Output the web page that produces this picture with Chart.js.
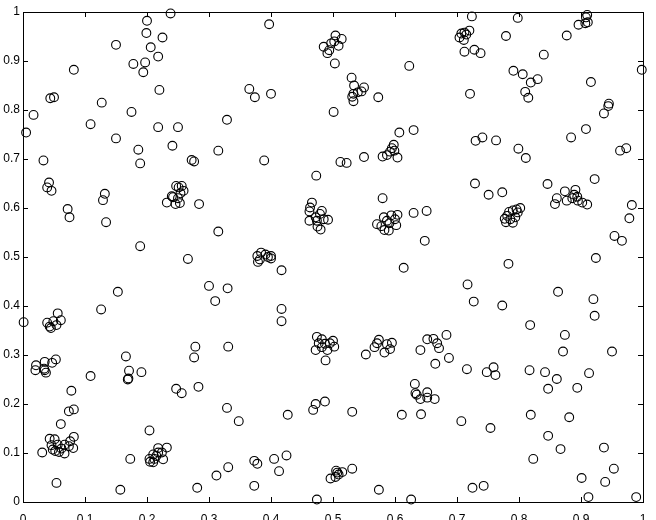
<!DOCTYPE html>
<html>
<head>
    <title>Scatter</title>
    <script src="https://cdn.jsdelivr.net/npm/chart.js"></script>
    <style>
        body { margin: 0; background: #fff; }
        canvas { display: block; }
    </style>
</head>
<body>
    <canvas id="scatterChart" width="656" height="520"></canvas>

    <script>
        // tick labels (both axes)
        const tickValues = [0, 0.1, 0.2, 0.3, 0.4, 0.5, 0.6, 0.7, 0.8, 0.9, 1];

        // points, x and y in matching order
        const xs = [
            0.238, 0.200, 0.199, 0.225, 0.150, 0.206, 0.218, 0.197, 0.178, 0.194, 0.082, 0.220, 0.044, 0.050, 0.127, 0.017, 0.175, 0.109, 0.218, 0.250, 0.329, 0.005, 0.150,
            0.397, 0.504, 0.514, 0.497, 0.502, 0.485, 0.509, 0.491, 0.494, 0.503, 0.623, 0.530, 0.534, 0.550, 0.546, 0.533, 0.531, 0.533, 0.540, 0.573, 0.365, 0.374, 0.400, 0.501, 0.607, 0.630,
            0.724, 0.798, 0.910, 0.908, 0.896, 0.911, 0.907, 0.707, 0.712, 0.720, 0.704, 0.711, 0.715, 0.779, 0.877, 0.712, 0.728, 0.738, 0.840, 0.998, 0.791, 0.806, 0.830, 0.819, 0.916, 0.721, 0.810, 0.815, 0.945, 0.944, 0.937, 0.908,
            0.186, 0.241, 0.315, 0.033, 0.189, 0.272, 0.276, 0.042, 0.039, 0.046, 0.132, 0.129, 0.247, 0.256, 0.251, 0.259, 0.240, 0.242, 0.232, 0.246, 0.253, 0.250, 0.254, 0.284, 0.072, 0.075, 0.134, 0.315, 0.189, 0.266,
            0.598, 0.595, 0.592, 0.587, 0.580, 0.604, 0.599, 0.389, 0.512, 0.522, 0.550, 0.473, 0.580, 0.630, 0.651, 0.648,
            0.466, 0.463, 0.462, 0.482, 0.479, 0.472, 0.492, 0.462, 0.474, 0.485, 0.480, 0.475,
            0.582, 0.594, 0.604, 0.600, 0.571, 0.578, 0.591, 0.602, 0.583, 0.590, 0.587,
            0.384, 0.378, 0.391, 0.400, 0.382, 0.395, 0.379, 0.400,
            0.730, 0.741, 0.763, 0.884, 0.799, 0.811, 0.963, 0.973, 0.729, 0.751, 0.773, 0.846, 0.922,
            0.874, 0.891, 0.861, 0.858, 0.877, 0.886, 0.894, 0.895, 0.902, 0.910, 0.889,
            0.802, 0.796, 0.790, 0.784, 0.781, 0.777, 0.779, 0.790, 0.794, 0.786, 0.798,
            0.982, 0.978, 0.954, 0.966, 0.924,
            0.153, 0.126, 0.300, 0.330, 0.310, 0.001, 0.056, 0.061, 0.039, 0.049, 0.043, 0.054, 0.045,
            0.021, 0.035, 0.047, 0.053, 0.020, 0.035, 0.037, 0.034,
            0.166, 0.171, 0.169, 0.170, 0.191, 0.109, 0.278, 0.276, 0.331,
            0.078, 0.247, 0.256, 0.283, 0.329, 0.074, 0.082, 0.061, 0.204,
            0.043, 0.051, 0.046, 0.056, 0.067, 0.076, 0.082, 0.074, 0.081, 0.048, 0.058, 0.067, 0.052, 0.062,
            0.031, 0.054, 0.157, 0.173,
            0.218, 0.232, 0.224, 0.210, 0.204, 0.212, 0.205, 0.210, 0.226, 0.218, 0.215,
            0.281, 0.312, 0.331,
            0.417, 0.614, 0.417, 0.417,
            0.474, 0.482, 0.500, 0.477, 0.487, 0.495, 0.502, 0.472, 0.482, 0.491, 0.488,
            0.574, 0.571, 0.567, 0.587, 0.595, 0.592, 0.583, 0.553,
            0.652, 0.662, 0.641, 0.665, 0.632,
            0.783, 0.717, 0.727, 0.773, 0.863, 0.920, 0.922, 0.818, 0.874, 0.950, 0.871, 0.683, 0.668, 0.671, 0.687, 0.716, 0.748, 0.759, 0.762, 0.817, 0.842, 0.861, 0.913,
            0.348, 0.427, 0.472, 0.468, 0.487, 0.531, 0.611, 0.642, 0.633, 0.635, 0.641, 0.652, 0.652, 0.664, 0.373, 0.378, 0.405, 0.425, 0.413, 0.373,
            0.505, 0.515, 0.496, 0.504, 0.509, 0.507, 0.531, 0.574, 0.474, 0.626,
            0.847, 0.894, 0.707, 0.754, 0.819, 0.881, 0.847, 0.867, 0.937, 0.823, 0.953, 0.901, 0.939, 0.725, 0.743, 0.912, 0.989
        ];
        const ys = [
            0.997, 0.982, 0.957, 0.948, 0.933, 0.928, 0.909, 0.897, 0.894, 0.877, 0.882, 0.841, 0.824, 0.826, 0.815, 0.790, 0.796, 0.771, 0.765, 0.765, 0.780, 0.754, 0.742,
            0.975, 0.952, 0.945, 0.936, 0.940, 0.929, 0.931, 0.916, 0.922, 0.895, 0.890, 0.866, 0.850, 0.846, 0.838, 0.833, 0.827, 0.818, 0.836, 0.826, 0.843, 0.826, 0.833, 0.796, 0.754, 0.759,
            0.991, 0.988, 0.994, 0.989, 0.974, 0.979, 0.977, 0.956, 0.958, 0.962, 0.948, 0.943, 0.954, 0.951, 0.952, 0.919, 0.923, 0.916, 0.913, 0.882, 0.880, 0.873, 0.863, 0.856, 0.857, 0.833, 0.837, 0.825, 0.813, 0.808, 0.793, 0.761,
            0.719, 0.727, 0.717, 0.697, 0.691, 0.698, 0.695, 0.652, 0.642, 0.635, 0.629, 0.616, 0.645, 0.645, 0.642, 0.635, 0.624, 0.622, 0.611, 0.608, 0.610, 0.620, 0.630, 0.608, 0.598, 0.581, 0.571, 0.552, 0.522, 0.496,
            0.729, 0.722, 0.715, 0.708, 0.705, 0.703, 0.717, 0.697, 0.694, 0.692, 0.704, 0.666, 0.620, 0.590, 0.594, 0.533,
            0.611, 0.601, 0.593, 0.594, 0.588, 0.581, 0.576, 0.574, 0.574, 0.577, 0.556, 0.562,
            0.581, 0.585, 0.586, 0.577, 0.567, 0.563, 0.569, 0.565, 0.555, 0.554, 0.574,
            0.509, 0.502, 0.505, 0.502, 0.495, 0.500, 0.490, 0.497,
            0.737, 0.744, 0.738, 0.744, 0.721, 0.702, 0.717, 0.722, 0.650, 0.627, 0.632, 0.649, 0.659,
            0.634, 0.637, 0.620, 0.608, 0.615, 0.620, 0.623, 0.615, 0.611, 0.607, 0.627,
            0.600, 0.597, 0.595, 0.592, 0.584, 0.578, 0.571, 0.570, 0.581, 0.577, 0.591,
            0.606, 0.579, 0.543, 0.533, 0.498,
            0.429, 0.393, 0.441, 0.436, 0.410, 0.367, 0.385, 0.371, 0.366, 0.369, 0.358, 0.361, 0.355,
            0.279, 0.286, 0.284, 0.291, 0.269, 0.269, 0.264, 0.272,
            0.297, 0.268, 0.250, 0.252, 0.265, 0.257, 0.317, 0.295, 0.317,
            0.227, 0.231, 0.222, 0.235, 0.192, 0.185, 0.189, 0.159, 0.146,
            0.129, 0.128, 0.116, 0.117, 0.117, 0.124, 0.133, 0.114, 0.110, 0.107, 0.102, 0.099, 0.104, 0.109,
            0.101, 0.039, 0.025, 0.088,
            0.110, 0.111, 0.101, 0.097, 0.088, 0.088, 0.082, 0.081, 0.087, 0.101, 0.094,
            0.029, 0.054, 0.071,
            0.473, 0.478, 0.394, 0.369,
            0.337, 0.332, 0.329, 0.324, 0.323, 0.324, 0.317, 0.310, 0.316, 0.310, 0.289,
            0.331, 0.324, 0.316, 0.322, 0.325, 0.312, 0.305, 0.301,
            0.332, 0.333, 0.310, 0.282, 0.241,
            0.486, 0.444, 0.409, 0.401, 0.429, 0.414, 0.380, 0.361, 0.341, 0.307, 0.307, 0.341, 0.324, 0.314, 0.294, 0.271, 0.265, 0.275, 0.259, 0.269, 0.265, 0.251, 0.263,
            0.165, 0.178, 0.200, 0.188, 0.205, 0.184, 0.178, 0.179, 0.222, 0.219, 0.210, 0.224, 0.213, 0.210, 0.084, 0.078, 0.088, 0.095, 0.063, 0.033,
            0.064, 0.061, 0.048, 0.051, 0.056, 0.060, 0.068, 0.025, 0.005, 0.005,
            0.231, 0.233, 0.165, 0.151, 0.178, 0.173, 0.135, 0.108, 0.111, 0.088, 0.068, 0.049, 0.041, 0.029, 0.033, 0.010, 0.010
        ];

        const points = xs.map((x, i) => ({ x: x, y: ys[i] }));

        const fmt = v => Number(v.toFixed(1)).toString();
        const labelFont = '12px "Liberation Sans", Arial, sans-serif';

        // box around the plot, inward ticks on all four sides, y tick labels
        const framePlugin = {
            id: 'frame',
            afterDraw(chart) {
                const c = chart.ctx;
                const a = chart.chartArea;
                const sx = chart.scales.x, sy = chart.scales.y;
                const len = 5;
                c.save();
                c.strokeStyle = '#000';
                c.lineWidth = 1;
                c.beginPath();
                tickValues.forEach(v => {
                    const px = Math.round(sx.getPixelForValue(v)) + 0.5;
                    c.moveTo(px, a.bottom); c.lineTo(px, a.bottom - len);
                    c.moveTo(px, a.top); c.lineTo(px, a.top + len);
                    const py = Math.round(sy.getPixelForValue(v)) + 0.5;
                    c.moveTo(a.left, py); c.lineTo(a.left + len, py);
                    c.moveTo(a.right, py); c.lineTo(a.right - len, py);
                });
                c.stroke();
                c.strokeRect(Math.round(a.left) + 0.5, Math.round(a.top) + 0.5,
                             Math.round(a.right - a.left), Math.round(a.bottom - a.top));

                c.fillStyle = '#000';
                c.font = labelFont;
                c.textAlign = 'right';
                c.textBaseline = 'middle';
                tickValues.forEach(v => {
                    c.fillText(fmt(v), a.left - 3, sy.getPixelForValue(v));
                });
                c.restore();
            }
        };

        const ctx = document.getElementById('scatterChart').getContext('2d');
        new Chart(ctx, {
            type: 'scatter',
            data: {
                datasets: [{
                    data: points,
                    pointStyle: 'circle',
                    pointRadius: 4.4,
                    pointBorderWidth: 1.1,
                    pointBorderColor: '#000',
                    pointBackgroundColor: 'rgba(0,0,0,0)',
                    clip: false
                }]
            },
            options: {
                responsive: false,
                animation: false,
                layout: { padding: { top: 12, right: 13, left: 0, bottom: 0 } },
                plugins: { legend: { display: false }, tooltip: { enabled: false } },
                scales: {
                    x: {
                        type: 'linear', min: 0, max: 1,
                        afterFit: s => { s.height = 18; },
                        afterBuildTicks: s => { s.ticks = tickValues.map(v => ({ value: v })); },
                        grid: { display: false },
                        border: { display: false },
                        ticks: {
                            callback: fmt, color: '#000', padding: 2, maxRotation: 0,
                            font: { family: 'Liberation Sans', size: 12 }
                        }
                    },
                    y: {
                        type: 'linear', min: 0, max: 1,
                        afterFit: s => { s.width = 23; },
                        afterBuildTicks: s => { s.ticks = tickValues.map(v => ({ value: v })); },
                        grid: { display: false },
                        border: { display: false },
                        ticks: { display: false }
                    }
                }
            },
            plugins: [framePlugin]
        });
    </script>
</body>
</html>
